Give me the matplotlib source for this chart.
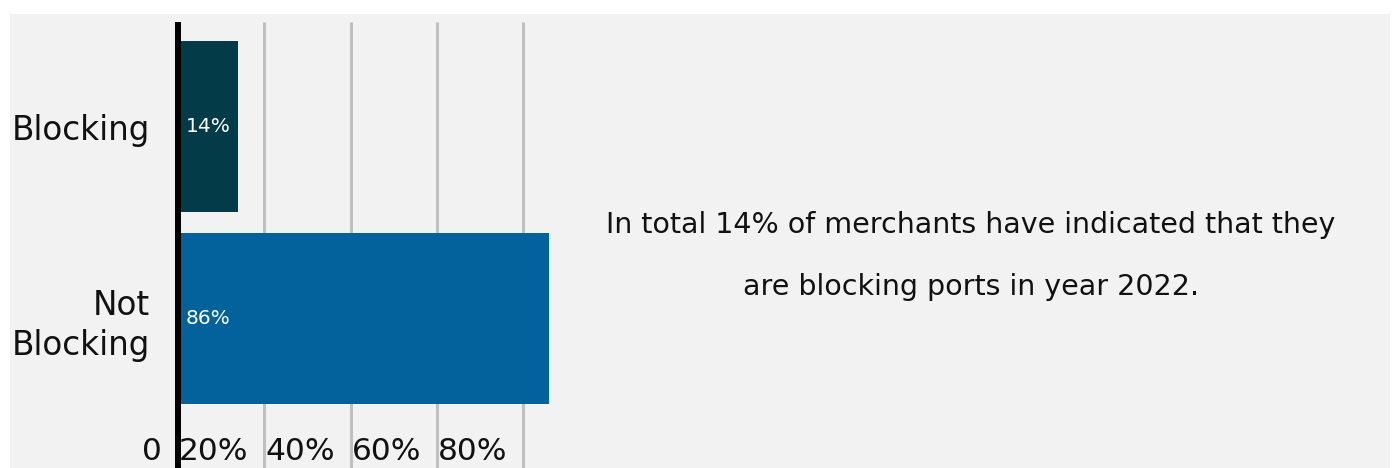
import matplotlib
matplotlib.use("Agg")
import matplotlib.pyplot as plt
from matplotlib.patches import Rectangle
from matplotlib.transforms import ScaledTranslation, blended_transform_factory

# Data
categories = ["Blocking", "Not\nBlocking"]
shares = [14, 86]
bar_colors = ["#033b48", "#03629b"]
tick_values = [0, 20, 40, 60, 80]
tick_labels = ["0", "20%", "40%", "60%", "80%"]
note_lines = ["In total 14% of merchants have indicated that they",
              "are blocking ports in year 2022."]

W, H, DPI = 1394, 468, 100
fig = plt.figure(figsize=(W / DPI, H / DPI), dpi=DPI, facecolor="white")

# light panel behind everything
fig.patches.append(Rectangle((10 / W, 0), (1390 - 10) / W, (H - 14) / H,
                             transform=fig.transFigure, facecolor="#f2f2f2",
                             edgecolor="none", zorder=-10))

ax_left, ax_top = 178, 22
ax = fig.add_axes([ax_left / W, 0, 431.5 / W, (H - ax_top) / H])
ax.set_zorder(1)
ax.set_facecolor("none")
for s in ax.spines.values():
    s.set_visible(False)

ypos = list(range(len(categories)))
ax.barh(ypos, shares, height=0.893, color=bar_colors, zorder=2)
ax.set_xlim(0, 100)
ax.set_ylim(1.783, -0.5457)

# vertical grid and baseline
for v in tick_values[1:]:
    ax.axvline(v, color="#c0c0c0", lw=2.2, zorder=1, solid_capstyle="butt")
ax.axvline(0, color="black", lw=4.3, zorder=3, clip_on=False,
           solid_capstyle="butt")

ax.set_xticks([])
ax.set_yticks(ypos)
ax.set_yticklabels(categories, fontsize=23.5, color="#111111",
                   multialignment="right", linespacing=1.3)
ax.tick_params(axis="y", length=0, pad=20)

# value labels inside bars
for y, v in zip(ypos, shares):
    ax.annotate(f"{v}%", xy=(0, y), xytext=(8, 0), textcoords="offset pixels",
                ha="left", va="center", color="white", fontsize=14.5, zorder=4)

# x tick labels sit just left of each gridline
trans = blended_transform_factory(ax.transData, ax.transAxes)
shift = ScaledTranslation(-16 / DPI, 0, fig.dpi_scale_trans)
for v, lab in zip(tick_values, tick_labels):
    ax.text(v, (H - 460) / (H - ax_top), lab, transform=trans + shift,
            ha="right", va="baseline", fontsize=22.5, color="#111111")

# note on the right
fig.text(971 / W, 1 - 225 / H, note_lines[0], ha="center", va="center",
         fontsize=20.5, color="#111111")
fig.text(971 / W, 1 - 287 / H, note_lines[1], ha="center", va="center",
         fontsize=20.5, color="#111111")

fig.savefig("out.png", dpi=DPI, facecolor="white")
